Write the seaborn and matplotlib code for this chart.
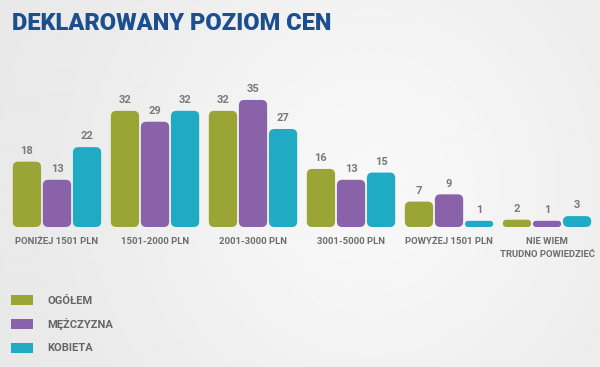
import numpy as np
import pandas as pd
import matplotlib
matplotlib.use("Agg")
import matplotlib.pyplot as plt
import seaborn as sns
from matplotlib.patches import FancyBboxPatch, Rectangle, Patch

categories = ["PONIŻEJ 1501 PLN", "1501-2000 PLN", "2001-3000 PLN", "3001-5000 PLN",
              "POWYŻEJ 1501 PLN", "NIE WIEM\nTRUDNO POWIEDZIEĆ"]
series_names = ["OGÓŁEM", "MĘŻCZYZNA", "KOBIETA"]
ogolem = [18, 32, 32, 16, 7, 2]
mezczyzna = [13, 29, 35, 13, 9, 1]
kobieta = [22, 32, 27, 15, 1, 3]
colors = ["#9ba536", "#8a62a9", "#1eabc3"]

df = pd.DataFrame({
    "cat": categories * 3,
    "series": [series_names[0]] * 6 + [series_names[1]] * 6 + [series_names[2]] * 6,
    "value": ogolem + mezczyzna + kobieta,
})

sns.set_theme(style="white")
plt.rcParams['font.family'] = ['Roboto', 'DejaVu Sans']

W, H = 600, 367
fig = plt.figure(figsize=(6, 3.67), dpi=100)

# background gradient
bg = fig.add_axes([0, 0, 1, 1])
xx = np.linspace(0, 1, 300)
yy = np.linspace(0, 1, 200)
X, Y = np.meshgrid(xx, yy)
Z = 0.905 + 0.065 * np.exp(-((X - 0.62) ** 2) / 0.2 - ((Y - 0.5) ** 2) / 0.6)
bg.imshow(Z, cmap="gray", vmin=0, vmax=1, aspect="auto", extent=[0, 1, 0, 1])
bg.axis("off")

x0, x1 = 8, 598
y_base = 227
px_per_unit = 3.63
ymax = 40
ax = fig.add_axes([x0 / W, 1 - y_base / H, (x1 - x0) / W, ymax * px_per_unit / H])
ax.patch.set_alpha(0)

sns.barplot(data=df, x="cat", y="value", hue="series", palette=colors,
            width=0.92, gap=0.06, ax=ax, legend=False, saturation=1)
ax.set_xlim(-0.5, 5.52)
ax.set_ylim(0, ymax)

# rounded bars
xunit_px = (x1 - x0) / (ax.get_xlim()[1] - ax.get_xlim()[0])
aspect = xunit_px / px_per_unit
rects = [p for p in ax.patches if isinstance(p, Rectangle)]
for p in rects:
    x, y = p.get_x(), p.get_y()
    w, h = p.get_width(), p.get_height()
    fc = p.get_facecolor()
    p.remove()
    hd = max(h, 1.7)
    r = min(0.055, (hd / aspect) / 2)
    fb = FancyBboxPatch((x, y), w, hd, boxstyle=f"round,pad=0,rounding_size={r}",
                        mutation_aspect=aspect, facecolor=fc, edgecolor="none")
    ax.add_patch(fb)
    ax.text(x + w / 2, hd + 1.6, f"{h:.0f}", ha="center", va="bottom",
            fontsize=8, fontweight="bold", color="#7a7a7a")

for s in ax.spines.values():
    s.set_visible(False)
ax.set_xlabel("")
ax.set_ylabel("")
ax.set_yticks([])
ax.tick_params(axis="x", length=0, pad=7)
ax.set_xticks(range(len(categories)))
ax.set_xticklabels(categories, fontsize=6.8, fontweight="bold", color="#6d6d6d",
                   va="top", linespacing=1.65)

fig.text(12 / W, 1 - 23 / H, "DEKLAROWANY POZIOM CEN", fontsize=17, fontweight=900,
         color="#1d4f8f", ha="left", va="center")

handles = [Patch(facecolor=c, edgecolor="none") for c in colors]
fig.legend(handles, series_names, loc="upper left", bbox_to_anchor=(1 / W, 1 - 285 / H),
           frameon=False, handlelength=2.0, handleheight=1.0, handletextpad=1.3,
           labelspacing=1.12, prop={"size": 8, "weight": "bold"}, labelcolor="#666666")

fig.savefig("out.png", dpi=100)
